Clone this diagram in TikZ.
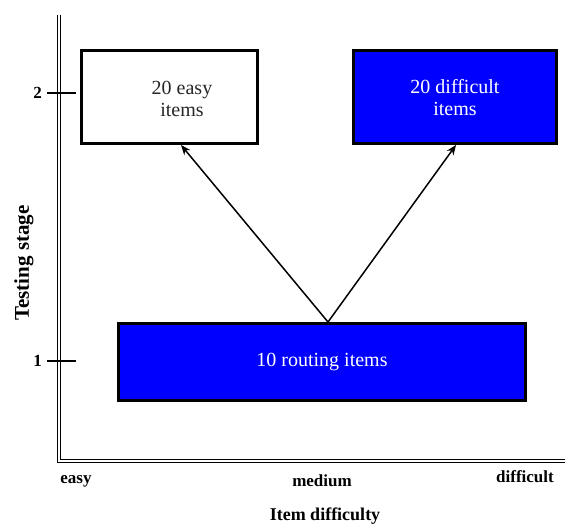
\documentclass[tikz,border=0pt]{standalone}
\usepackage{fontspec}
\setmainfont{Liberation Serif}
\usetikzlibrary{arrows.meta}
\begin{document}
\begin{tikzpicture}[x=1pt,y=-1pt,
 box/.style={draw=black,line width=3pt,inner sep=0pt},
 bluebox/.style={box,fill=blue,text=white},
 boxtext/.style={font=\fontsize{20}{22}\selectfont,align=center,inner sep=0pt},
 axlabel/.style={font=\fontsize{17}{20}\selectfont\bfseries,inner sep=0pt},
 axisline/.style={double=white,double distance=2pt,line width=1pt},
 tickline/.style={line width=2pt},
 arr/.style={line width=1.5pt,-{Stealth[length=10pt,width=8pt]}}]
\useasboundingbox (0,0) rectangle (565,524);
% axes
\coordinate (vtop) at (59,15);
\coordinate (corner) at (59,460.5);
\coordinate (hend) at (565,460.5);
\draw[axisline] (vtop) -- (corner) -- (hend);
% ticks
\coordinate (t2a) at (47,93); \coordinate (t2b) at (76,93);
\coordinate (t1a) at (47,361); \coordinate (t1b) at (76,361);
\draw[tickline] (t2a) -- (t2b);
\draw[tickline] (t1a) -- (t1b);
\node[axlabel,anchor=east] (l2) at (42,93) {2};
\node[axlabel,anchor=east] (l1) at (42,361) {1};
\node[axlabel,font=\fontsize{21}{24}\selectfont\bfseries,rotate=90] (ylab) at (24,263) {Testing stage};
% x labels
\node[axlabel] (xeasy) at (76,481) {easy};
\node[axlabel] (xmed) at (322,481) {medium};
\node[axlabel] (xdiff) at (525,477) {difficult};
\node[axlabel,font=\fontsize{18}{21}\selectfont\bfseries] (xlab) at (325,516) {Item difficulty};
% boxes
\node[box,minimum width=176pt,minimum height=93pt] (easy) at (169,97.5) {};
\node[boxtext,text=black!85] (easytext) at (182,99) {20 easy\\items};
\node[bluebox,minimum width=203pt,minimum height=93pt,boxtext] (diff) at (455,97.5) {20 difficult\\items};
\node[bluebox,minimum width=407pt,minimum height=77pt,boxtext] (route) at (322,362) {10 routing items};
% arrows
\coordinate (apex) at (328,322);
\coordinate (ea) at (181,145);
\coordinate (da) at (456,145);
\draw[arr] (apex) -- (ea);
\draw[arr] (apex) -- (da);
\end{tikzpicture}
\end{document}
